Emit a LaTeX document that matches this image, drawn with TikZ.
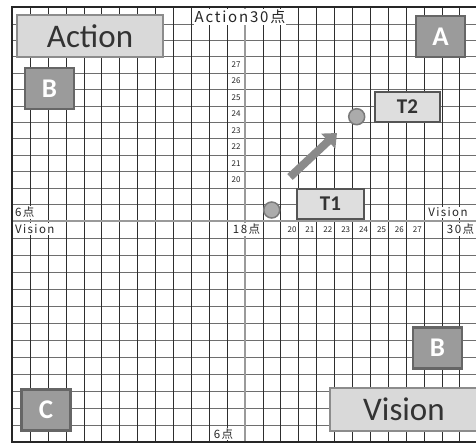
\documentclass[tikz,border=0pt]{standalone}
\usepackage{fontspec}
\setmainfont{Carlito}
\newfontfamily\jpfont[LetterSpace=12]{Noto Sans CJK JP}
\newfontfamily\numfont{Noto Sans CJK JP}
\usepackage{xcolor}
\usetikzlibrary{arrows.meta, positioning}
\definecolor{gridv}{HTML}{2E2E2E}
\definecolor{gridh}{HTML}{6E6E6E}
\definecolor{axisgray}{HTML}{9A9A9A}
\definecolor{lightfill}{HTML}{D9D9D9}
\definecolor{lightedge}{HTML}{8C8C8C}
\definecolor{darkfill}{HTML}{9B9B9B}
\definecolor{darkedge}{HTML}{666666}
\definecolor{tfill}{HTML}{DEDEDE}
\definecolor{tedge}{HTML}{555555}
\definecolor{spotfill}{HTML}{ABABAB}
\definecolor{spotedge}{HTML}{7A7A7A}
\definecolor{arrgray}{HTML}{8A8A8A}
\definecolor{inkgray}{HTML}{333333}

\begin{document}
\begin{tikzpicture}[
    x=1pt, y=-1pt,
    hline/.style={gridh, line width=1pt},
    vline/.style={gridv, line width=1pt},
    axisline/.style={axisgray, line width=2pt},
    bigbox/.style={draw=lightedge, line width=2pt, fill=lightfill, text=inkgray,
                   minimum width=146pt, minimum height=42pt, inner sep=0pt,
                   font=\fontsize{33}{36}\selectfont},
    letterbox/.style={draw=darkedge, line width=2.5pt, fill=darkfill, text=white,
                      minimum width=49pt, minimum height=41pt, inner sep=0pt,
                      font=\fontsize{27}{30}\selectfont\bfseries},
    tbox/.style={draw=tedge, line width=2pt, fill=tfill, text=inkgray,
                 minimum height=30pt, inner sep=0pt,
                 font=\fontsize{21}{24}\selectfont\bfseries},
    spot/.style={circle, draw=spotedge, line width=1.5pt, fill=spotfill,
                 minimum size=16pt, inner sep=0pt},
    axislbl/.style={fill=white, inner sep=1pt, text=black!85,
                    font=\jpfont\fontsize{11.5}{12}\selectfont},
    toplbl/.style={axislbl, font=\jpfont\fontsize{15}{16}\selectfont},
    numlbl/.style={fill=white, inner sep=0.5pt, text=black!85,
                   font=\numfont\fontsize{8}{9}\selectfont},
    bigarrow/.style={line width=8pt, draw=arrgray, -{Triangle[length=12pt, width=20pt]}},
]
\useasboundingbox (0,0) rectangle (476,444);
\clip (0,0) rectangle (476,444);

% grid, snapped to whole pixels
\foreach \k in {1,...,12} \draw[hline] (12,{round(7.3+16.4*\k)+0.5}) -- (478,{round(7.3+16.4*\k)+0.5});
\foreach \k in {1,...,12} \draw[hline] (12,{round(220.5+17.07*\k)+0.5}) -- (478,{round(220.5+17.07*\k)+0.5});
\foreach \i in {1,...,25} \draw[vline] ({round(12+17.9*\i)+0.5},7.3) -- ({round(12+17.9*\i)+0.5},442.3);
\draw[axisline] (245,7.3) -- (245,442.3);
\draw[axisline] (12,221) -- (478,221);
\draw[line width=2pt, black!85] (12,7.5) rectangle (478,442);

% scale labels
\foreach \n in {20,...,27} \node[numlbl] (v\n) at (236,{7.3+16.4*(30.5-\n)}) {\n};
\foreach \n in {20,...,27} \node[numlbl] (h\n) at ({292+17.9*(\n-20)},229.5) {\n};
\node[toplbl] (actaxis) at (240,17) {Action30点};
\node[axislbl, anchor=west] (sixleft) at (14,212.5) {6点};
\node[axislbl, anchor=west] (visleft) at (14,229) {Vision};
\node[axislbl] (center) at (246.5,229.5) {18点};
\node[axislbl] (visright) at (448,212.5) {Vision};
\node[axislbl] (thirty) at (460.5,229.5) {30点};
\node[axislbl] (sixbottom) at (223.5,434) {6点};

% quadrant boxes
\node[bigbox] (action) at (90,36.5) {Action};
\node[bigbox, minimum width=148pt, minimum height=43pt] (vision) at (404,409.5) {Vision};
\node[letterbox] (boxA) at (440.5,36.5) {A};
\node[letterbox] (boxBtop) at (49.5,88.5) {B};
\node[letterbox] (boxBbot) at (437.5,348) {B};
\node[letterbox] (boxC) at (46,410) {C};

% T1 -> T2
\node[tbox, minimum width=67pt] (t1) at (330.5,204) {T1};
\node[tbox, minimum width=65pt] (t2) at (407.5,107) {T2};
\node[spot] (start) at (271.7,210) {};
\node[spot] (goal) at (356.7,116.7) {};
\coordinate (arrtail) at (290,177);
\coordinate (arrtip) at (337,133);
\draw[bigarrow] (arrtail) -- (arrtip);
\end{tikzpicture}
\end{document}
